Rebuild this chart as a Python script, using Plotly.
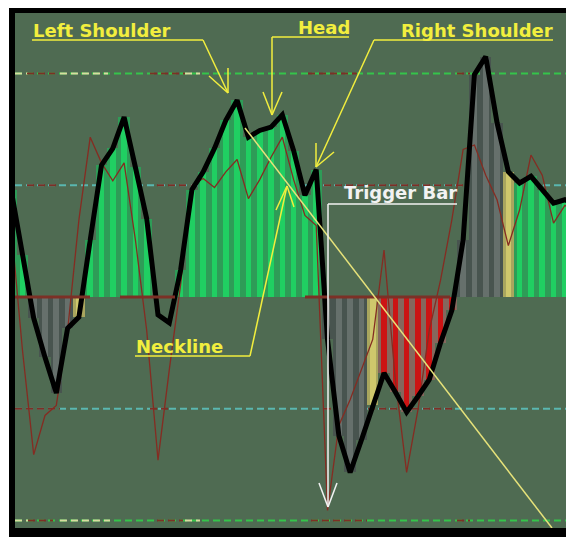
import plotly.graph_objects as go

# ---------------- data ----------------
bar_index = list(range(-1, 50))
cci = [96, 38, -19, -54, -86, -28, -18, 51, 118, 133, 161, 116, 70, -16, -23, 24,
       96, 112, 133, 158, 176, 143, 149, 152, 163, 131, 91, 114, -38, -124, -157,
       -128, -97, -68, -85, -103, -89, -74, -41, -12, 51, 199, 215, 156, 112, 102,
       108, 96, 84, 87, 82]
tcci = [64, -47, -141, -106, -97, -30, 69, 143, 120, 104, 120, 51, -30, -146, -65, 11,
        100, 106, 98, 112, 123, 88, 105, 125, 143, 105, 73, 64, -191, -115, -92,
        -65, -38, 42, -74, -157, -101, -30, 15, 69, 132, 136, 109, 87, 46, 78,
        127, 109, 66, 82, 76]
state = (["up"] * 2 + ["flat"] * 4 + ["trig"] + ["up"] * 6 + ["none"] * 2 +
         ["up"] * 13 + ["flat"] * 4 + ["trig"] + ["down"] * 7 + ["flat"] * 4 +
         ["trig"] + ["up"] * 6)
levels = [200, 100, 0, -100, -200]

# ---------------- styling ----------------
BG = "#4f6b52"
front_col = {"up": "#20cf62", "flat": "#66706c", "trig": "#cfc86c",
             "down": "#cc1414", "none": "rgba(0,0,0,0)"}
back_col = {"up": "#2e9c57", "flat": "#48544f", "trig": "#a9a65e",
            "down": "#86675d", "none": "rgba(0,0,0,0)"}

fig = go.Figure()
fig.add_trace(go.Bar(x=bar_index, y=cci, width=1.0,
                     marker=dict(color=[back_col[s] for s in state], line=dict(width=0))))
fig.add_trace(go.Bar(x=bar_index, y=cci, width=0.5,
                     marker=dict(color=[front_col[s] for s in state], line=dict(width=0))))
fig.add_trace(go.Scatter(x=bar_index, y=tcci, mode="lines",
                         line=dict(color="#852c22", width=1.3)))
fig.add_trace(go.Scatter(x=bar_index, y=cci, mode="lines",
                         line=dict(color="#000000", width=5)))


# page-pixel -> paper helpers (plot area spans page x 15..574, y 13..528)
def PX(p):
    return (p - 15) / 559


def PY(p):
    return (528 - p) / 515


shapes = []
for lv in levels:
    if abs(lv) == 200:
        col = "#35c44a"
    elif abs(lv) == 100:
        col = "#5ab7b0"
    else:
        continue
    shapes.append(dict(type="line", xref="paper", yref="y", x0=0, x1=1, y0=lv, y1=lv,
                       line=dict(color=col, width=2, dash="7px,4px"), layer="below"))

red_seg = {200: [(27, 55), (150, 185), (308, 357), (457, 470)],
           -200: [(28, 53), (157, 183), (311, 367), (457, 470)],
           100: [(27, 60), (157, 187), (324, 470)],
           -100: [(15, 60), (150, 170), (324, 455)],
           0: [(15, 90), (120, 175), (305, 450)]}
light_seg = {200: [(15, 28), (60, 108), (185, 200)],
             -200: [(15, 28), (60, 110), (185, 200)]}
for lv, segs in light_seg.items():
    for a, b in segs:
        shapes.append(dict(type="line", xref="paper", yref="y", x0=PX(a), x1=PX(b),
                           y0=lv, y1=lv, line=dict(color="#d8dca0", width=2, dash="7px,4px"),
                           layer="below"))
for lv, segs in red_seg.items():
    for a, b in segs:
        shapes.append(dict(type="line", xref="paper", yref="y", x0=PX(a), x1=PX(b),
                           y0=lv, y1=lv,
                           line=dict(color="#7c3026", width=3 if lv == 0 else 2,
                                     dash="solid" if lv == 0 else "7px,4px"),
                           layer="above" if lv == 0 else "below"))

# trend (neckline) line
shapes.append(dict(type="line", xref="paper", yref="paper", x0=PX(245), y0=PY(128),
                   x1=PX(552), y1=PY(528), line=dict(color="#e6e27a", width=1.5)))

YEL = "#f2ee3e"
WHT = "#f2f2f2"


def seg(a, b, col, w=1.5):
    shapes.append(dict(type="line", xref="paper", yref="paper",
                       x0=PX(a[0]), y0=PY(a[1]), x1=PX(b[0]), y1=PY(b[1]),
                       line=dict(color=col, width=w)))


callouts = [
    ([(32, 40), (203, 40), (228, 93)], [(228, 68), (209, 76)], YEL),
    ([(349, 37), (272, 37), (272, 115)], [(263, 92), (282, 92)], YEL),
    ([(553, 40), (374, 40), (316, 167)], [(316, 143), (334, 152)], YEL),
    ([(457, 204), (328, 204), (328, 507)], [(319, 483), (337, 483)], WHT),
    ([(135, 356), (250, 356), (287, 186)], [(276, 210), (294, 207)], YEL),
]
for pts, arms, col in callouts:
    for a, b in zip(pts[:-1], pts[1:]):
        seg(a, b, col)
    for arm in arms:
        seg(pts[-1], arm, col)

# black frame
for x0, y0, x1, y1 in [(9, 7, 574, 13), (9, 7, 15, 537), (9, 528, 574, 537)]:
    shapes.append(dict(type="rect", xref="paper", yref="paper", x0=PX(x0), x1=PX(x1),
                       y0=PY(y1), y1=PY(y0), fillcolor="#000000", line=dict(width=0)))

labels = [("Left Shoulder", 31, 30, YEL), ("Head", 296, 28, YEL),
          ("Right Shoulder", 399, 30, YEL), ("Trigger Bar", 342, 192, WHT),
          ("Neckline", 134, 346, YEL)]
annotations = []
for txt, x, y, col in labels:
    annotations.append(dict(text="<b>" + txt + "</b>", xref="paper", yref="paper",
                            x=PX(x), y=PY(y), xanchor="left", yanchor="middle",
                            showarrow=False,
                            font=dict(family="DejaVu Sans", size=18, color=col)))

# the page body adds an 8px margin, so the figure is 8px smaller than the window
fig.update_layout(
    width=566, height=534,
    margin=dict(l=7, r=0, t=5, b=14, pad=0),
    paper_bgcolor="#ffffff", plot_bgcolor=BG,
    barmode="overlay", bargap=0, showlegend=False,
    xaxis=dict(range=[-0.655, 48.81], visible=False, fixedrange=True),
    yaxis=dict(range=[-206.7, 254.1], visible=False, fixedrange=True),
    shapes=shapes, annotations=annotations,
)
fig.write_html("out.html")
